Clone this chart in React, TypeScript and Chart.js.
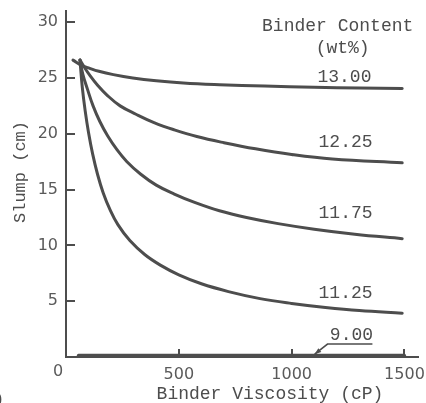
import React, { useEffect, useRef } from "react";
import { Chart, registerables } from "chart.js";

Chart.register(...registerables);

// Binder viscosity (cP) and slump (cm), one pair of arrays per binder content
const visc1300 = [31, 66, 100, 146, 210, 296, 400, 520, 680, 880, 1100, 1300, 1490];
const slump1300 = [26.6, 26.15, 25.9, 25.6, 25.3, 25.0, 24.75, 24.55, 24.4, 24.27, 24.17, 24.1, 24.05];

const visc1225 = [62, 80, 105, 140, 185, 240, 310, 390, 480, 580, 700, 840, 1000, 1180, 1490];
const slump1225 = [26.6, 26.0, 25.25, 24.35, 23.4, 22.5, 21.75, 21.0, 20.35, 19.75, 19.2, 18.65, 18.15, 17.75, 17.4];

const visc1175 = [62, 75, 95, 120, 150, 185, 225, 270, 330, 400, 480, 570, 680, 800, 940, 1100, 1280, 1490];
const slump1175 = [26.6, 25.3, 24.0, 22.5, 21.1, 19.8, 18.6, 17.5, 16.4, 15.4, 14.6, 13.85, 13.1, 12.5, 11.95, 11.45, 11.0, 10.6];

const visc1125 = [62, 72, 85, 100, 118, 140, 165, 195, 230, 283, 350, 420, 500, 600, 720, 860, 1000, 1150, 1300, 1490];
const slump1125 = [26.6, 24.2, 22.05, 20.1, 18.2, 16.35, 14.7, 13.2, 11.86, 10.43, 9.16, 8.21, 7.36, 6.56, 5.86, 5.23, 4.8, 4.44, 4.16, 3.93];

const visc900 = [55, 1500];
const slump900 = [0.15, 0.15];

const seriesNames = ["13.00", "12.25", "11.75", "11.25", "9.00"];
const seriesVisc = [visc1300, visc1225, visc1175, visc1125, visc900];
const seriesSlump = [slump1300, slump1225, slump1175, slump1125, slump900];

const xTickValues = [0, 500, 1000, 1500];
const yTickValues = [0, 5, 10, 15, 20, 25, 30];

// label anchors in data units (viscosity, slump)
const labelVisc = [1234, 1239, 1239, 1239, 1265];
const labelSlump = [25.1, 19.2, 12.85, 5.7, 1.95];
const legendTitle = ["Binder Content", "(wt%)"];
const legendVisc = [1204, 1226];
const legendSlump = [29.6, 27.7];

const xTitle = "Binder Viscosity (cP)";
const yTitle = "Slump (cm)";

const INK = "#4d4d4d";
const TICK_INK = "#5a5a5a";
const MONO = "'Liberation Mono', 'DejaVu Sans Mono', monospace";
const SANS = "'DejaVu Sans', 'Liberation Sans', sans-serif";

const annotationPlugin = {
  id: "annotations",
  afterDraw(chart: any) {
    const { ctx, chartArea } = chart;
    const xs = chart.scales.x;
    const ys = chart.scales.y;
    ctx.save();
    // inward tick marks
    ctx.strokeStyle = INK;
    ctx.lineWidth = 2;
    for (const t of yTickValues) {
      if (t === 0) continue;
      const py = Math.round(ys.getPixelForValue(t));
      ctx.beginPath();
      ctx.moveTo(chartArea.left, py);
      ctx.lineTo(chartArea.left + 9, py);
      ctx.stroke();
    }
    for (const t of xTickValues) {
      if (t === 0) continue;
      const px = Math.round(xs.getPixelForValue(t));
      ctx.beginPath();
      ctx.moveTo(px, chartArea.bottom);
      ctx.lineTo(px, chartArea.bottom - 8);
      ctx.stroke();
    }

    // origin label shared by both axes
    ctx.fillStyle = TICK_INK;
    ctx.font = `16px ${SANS}`;
    ctx.textAlign = "center";
    ctx.textBaseline = "middle";
    ctx.fillText("0", xs.getPixelForValue(0) - 8, chartArea.bottom + 15);

    // curve labels
    ctx.fillStyle = INK;
    ctx.font = `18px ${MONO}`;
    ctx.textAlign = "center";
    ctx.textBaseline = "middle";
    seriesNames.forEach((n, i) => {
      ctx.fillText(n, xs.getPixelForValue(labelVisc[i]), ys.getPixelForValue(labelSlump[i]));
    });
    legendTitle.forEach((t, i) => {
      ctx.fillText(t, xs.getPixelForValue(legendVisc[i]), ys.getPixelForValue(legendSlump[i]));
    });

    // leader for 9.00
    const ux0 = xs.getPixelForValue(1159);
    const ux1 = xs.getPixelForValue(1358);
    const uy = ys.getPixelForValue(1.16);
    const ax = xs.getPixelForValue(1102);
    const ay = ys.getPixelForValue(0.25);
    ctx.lineWidth = 1.6;
    ctx.beginPath();
    ctx.moveTo(ux1, uy);
    ctx.lineTo(ux0, uy);
    ctx.lineTo(ax, ay);
    ctx.stroke();
    const ang = Math.atan2(ay - uy, ax - ux0);
    ctx.beginPath();
    ctx.moveTo(ax, ay);
    ctx.lineTo(ax - 7 * Math.cos(ang - 0.35), ay - 7 * Math.sin(ang - 0.35));
    ctx.lineTo(ax - 7 * Math.cos(ang + 0.35), ay - 7 * Math.sin(ang + 0.35));
    ctx.closePath();
    ctx.fill();

    // axis titles
    ctx.font = `18px ${MONO}`;
    ctx.textAlign = "center";
    ctx.textBaseline = "alphabetic";
    ctx.fillText(xTitle, 270, 399);
    ctx.save();
    ctx.translate(25, 172);
    ctx.rotate(-Math.PI / 2);
    ctx.font = `17px ${MONO}`;
    ctx.fillText(yTitle, 0, 0);
    ctx.restore();

    // cut-off caption fragment
    ctx.textAlign = "left";
    ctx.font = `17px ${MONO}`;
    ctx.fillText(")", -6, 404);

    ctx.restore();
  },
};

export default function App() {
  const canvasRef = useRef<HTMLCanvasElement | null>(null);

  useEffect(() => {
    if (!canvasRef.current) return;
    const datasets = seriesNames.map((name, i) => ({
      label: name,
      data: seriesVisc[i].map((v, j) => ({ x: v, y: seriesSlump[i][j] })),
      borderColor: INK,
      backgroundColor: INK,
      borderWidth: 3,
      pointRadius: 0,
      fill: false,
      tension: 0.4,
      borderCapStyle: "round" as const,
      borderJoinStyle: "round" as const,
    }));
    const chart = new Chart(canvasRef.current, {
      type: "line",
      data: { datasets },
      options: {
        animation: false,
        responsive: false,
        devicePixelRatio: 1,
        layout: { padding: { top: 11, right: 8, left: 0, bottom: 0 } },
        plugins: { legend: { display: false }, tooltip: { enabled: false } },
        scales: {
          x: {
            type: "linear",
            min: 0,
            max: 1560,
            afterBuildTicks(scale: any) {
              scale.ticks = xTickValues.map((v) => ({ value: v }));
            },
            afterFit(scale: any) {
              scale.height = 46;
              scale.paddingLeft = 0;
              scale.paddingRight = 0;
            },
            grid: { display: true, drawOnChartArea: false, drawTicks: false },
            border: { display: true, color: INK, width: 2 },
            ticks: {
              autoSkip: false,
              maxRotation: 0,
              padding: 8,
              color: TICK_INK,
              font: { family: SANS, size: 16 },
              callback: (v: any) => (v === 0 ? "" : String(v)),
            },
          },
          y: {
            type: "linear",
            min: 0,
            max: 31,
            afterBuildTicks(scale: any) {
              scale.ticks = yTickValues.map((v) => ({ value: v }));
            },
            afterFit(scale: any) {
              scale.width = 66;
              scale.paddingTop = 0;
              scale.paddingBottom = 0;
            },
            grid: { display: true, drawOnChartArea: false, drawTicks: false },
            border: { display: true, color: INK, width: 2 },
            ticks: {
              autoSkip: false,
              padding: 8,
              color: TICK_INK,
              font: { family: SANS, size: 16 },
              callback: (v: any) => (v === 0 ? "" : String(v)),
            },
          },
        },
      },
      plugins: [annotationPlugin],
    });
    return () => chart.destroy();
  }, []);

  return (
    <div style={{ position: "absolute", left: 0, top: 0, width: 426, height: 403, background: "#fff" }}>
      <canvas ref={canvasRef} width={426} height={403} style={{ display: "block" }} />
    </div>
  );
}
